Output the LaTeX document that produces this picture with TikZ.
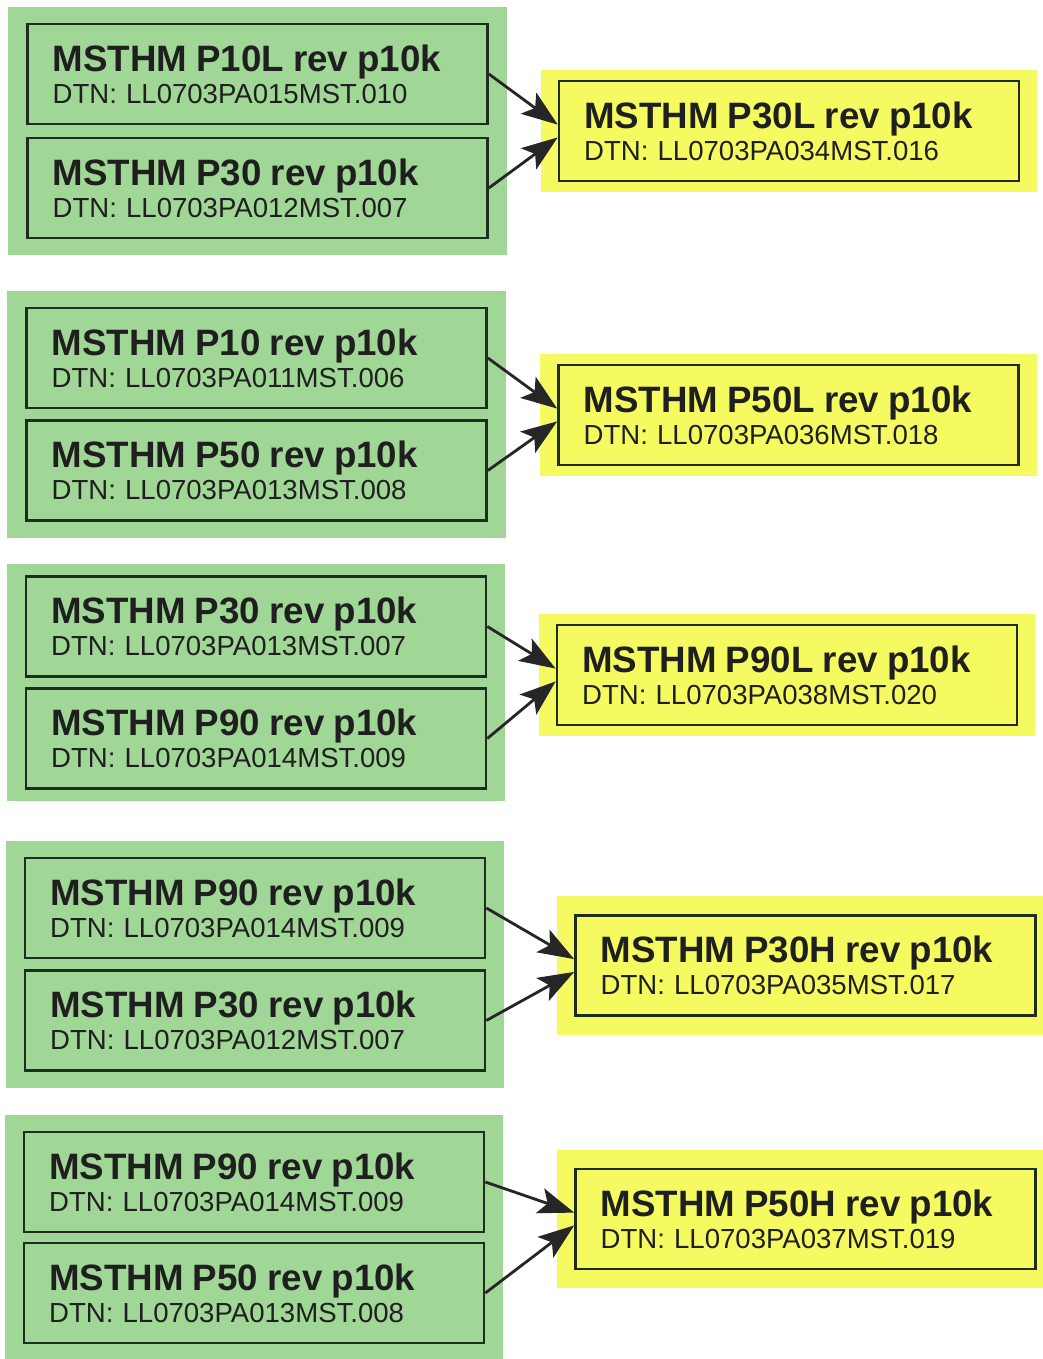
\documentclass[tikz,border=0pt]{standalone}
\usepackage{fontspec}
\setmainfont{Liberation Sans}
\usepackage{xcolor}
\usetikzlibrary{arrows.meta,positioning,fit,calc}

\definecolor{panelgreen}{RGB}{160,214,150}
\definecolor{panelyellow}{RGB}{244,250,96}
\definecolor{boxline}{RGB}{30,45,30}
\newcommand{\dtntitle}[1]{{\fontsize{26.1}{22.8}\selectfont\bfseries #1}}
\pgfdeclarelayer{panels}
\pgfsetlayers{panels,main}

\begin{document}
\begin{tikzpicture}[
    x=0.025cm, y=-0.025cm,
    dtnbox/.style={rectangle, draw=boxline, line width=1.8pt, minimum width=11.5cm, minimum height=2.5cm,
        inner xsep=0.63cm, text width=10.24cm, align=left, text=black!88,
        font=\fontsize{19.6}{22.8}\selectfont},
    greenpanel/.style={rectangle, fill=panelgreen, inner xsep=0.45cm, inner ysep=0.4cm},
    yellowpanel/.style={rectangle, fill=panelyellow, inner xsep=0.42cm, inner ysep=0.25cm},
    arrow/.style={-{Stealth[length=9mm,width=6.5mm,inset=2mm]}, line width=2pt, draw=black!85}
]
\useasboundingbox (0,0) rectangle (1042,1359);

% group 1
\node[dtnbox] (s1a) at (257.5,74) {\dtntitle{MSTHM P10L rev p10k}\\DTN: LL0703PA015MST.010};
\node[dtnbox] (s1b) at (257.5,188) {\dtntitle{MSTHM P30 rev p10k}\\DTN: LL0703PA012MST.007};
\node[dtnbox] (d1) at (789,131) {\dtntitle{MSTHM P30L rev p10k}\\DTN: LL0703PA034MST.016};

% group 2
\node[dtnbox] (s2a) at (256.5,358) {\dtntitle{MSTHM P10 rev p10k}\\DTN: LL0703PA011MST.006};
\node[dtnbox] (s2b) at (256.5,470.5) {\dtntitle{MSTHM P50 rev p10k}\\DTN: LL0703PA013MST.008};
\node[dtnbox] (d2) at (788.5,415) {\dtntitle{MSTHM P50L rev p10k}\\DTN: LL0703PA036MST.018};

% group 3
\node[dtnbox] (s3a) at (256,626.5) {\dtntitle{MSTHM P30 rev p10k}\\DTN: LL0703PA013MST.007};
\node[dtnbox] (s3b) at (256,738.5) {\dtntitle{MSTHM P90 rev p10k}\\DTN: LL0703PA014MST.009};
\node[dtnbox] (d3) at (787,675) {\dtntitle{MSTHM P90L rev p10k}\\DTN: LL0703PA038MST.020};

% group 4
\node[dtnbox] (s4a) at (255,908) {\dtntitle{MSTHM P90 rev p10k}\\DTN: LL0703PA014MST.009};
\node[dtnbox] (s4b) at (255,1020.5) {\dtntitle{MSTHM P30 rev p10k}\\DTN: LL0703PA012MST.007};
\node[dtnbox] (d4) at (805.5,965.5) {\dtntitle{MSTHM P30H rev p10k}\\DTN: LL0703PA035MST.017};

% group 5
\node[dtnbox] (s5a) at (254,1182) {\dtntitle{MSTHM P90 rev p10k}\\DTN: LL0703PA014MST.009};
\node[dtnbox] (s5b) at (254,1293) {\dtntitle{MSTHM P50 rev p10k}\\DTN: LL0703PA013MST.008};
\node[dtnbox] (d5) at (805.5,1219) {\dtntitle{MSTHM P50H rev p10k}\\DTN: LL0703PA037MST.019};

% panels behind the boxes
\begin{pgfonlayer}{panels}
\node[greenpanel, fit=(s1a)(s1b)] (g1) {};
\node[greenpanel, fit=(s2a)(s2b)] (g2) {};
\node[greenpanel, fit=(s3a)(s3b), inner ysep=0.28cm] (g3) {};
\node[greenpanel, fit=(s4a)(s4b)] (g4) {};
\node[greenpanel, fit=(s5a)(s5b)] (g5) {};
\node[yellowpanel, fit=(d1)] (y1) {};
\node[yellowpanel, fit=(d2)] (y2) {};
\node[yellowpanel, fit=(d3)] (y3) {};
\node[yellowpanel, fit=(d4), inner ysep=0.45cm] (y4) {};
\node[yellowpanel, fit=(d5), inner ysep=0.45cm] (y5) {};
\end{pgfonlayer}

% arrows
\draw[arrow] (s1a.east) -- ([yshift=0.16cm]d1.west);
\draw[arrow] (s1b.east) -- ([yshift=-0.16cm]d1.west);
\draw[arrow] (s2a.east) -- ([yshift=0.16cm]d2.west);
\draw[arrow] (s2b.east) -- ([yshift=-0.16cm]d2.west);
\draw[arrow] (s3a.east) -- ([yshift=0.16cm]d3.west);
\draw[arrow] (s3b.east) -- ([yshift=-0.16cm]d3.west);
\draw[arrow] (s4a.east) -- ([yshift=0.16cm]d4.west);
\draw[arrow] (s4b.east) -- ([yshift=-0.16cm]d4.west);
\draw[arrow] (s5a.east) -- ([yshift=0.16cm]d5.west);
\draw[arrow] (s5b.east) -- ([yshift=-0.16cm]d5.west);
\end{tikzpicture}
\end{document}
